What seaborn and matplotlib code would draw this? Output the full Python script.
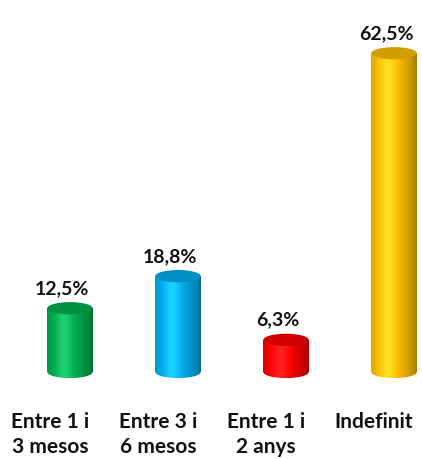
import numpy as np
import matplotlib
matplotlib.use("Agg")
import matplotlib.pyplot as plt
import matplotlib.colors as mcolors
from matplotlib.patches import Ellipse
import seaborn as sns

categories = ["Entre 1 i\n3 mesos", "Entre 3 i\n6 mesos", "Entre 1 i\n2 anys", "Indefinit"]
values = [12.5, 18.8, 6.3, 62.5]
value_labels = ["12,5%", "18,8%", "6,3%", "62,5%"]
colors = ["#00B050", "#00B0F0", "#FF0000", "#FFC000"]

sns.set_style("white")
plt.rcParams["font.family"] = ["Lato", "DejaVu Sans"]

fig = plt.figure(figsize=(4.22, 4.59), dpi=100)
ax = fig.add_axes([0, 0, 1, 1])

bar_w = 0.42
sns.barplot(x=categories, y=values, hue=categories, palette=colors,
            width=bar_w, legend=False, ax=ax, saturation=1)

ax.set_xlim(-0.648, 3.259)
ax.set_ylim(-17.06, 72.94)
ax.axis("off")

eh = 2.4  # ellipse height in data units


def shade(c, n=60):
    base = np.array(mcolors.to_rgb(c))
    t = np.linspace(-1, 1, n)
    # light just left of centre, darker to the edges
    f = 1 - 0.35 * ((t + 0.25) / 1.25) ** 2
    f = np.clip(f, 0.55, 1.0)
    light = np.clip(base * f[:, None] + 0.12 * np.exp(-((t + 0.25) * 3) ** 2)[:, None], 0, 1)
    return light[None, :, :]


for patch, val, lab, col in zip(ax.patches, values, value_labels, colors):
    x0 = patch.get_x()
    w = patch.get_width()
    h = patch.get_height()
    cx = x0 + w / 2
    grad = shade(col)
    patch.set_alpha(0)
    # body
    im = ax.imshow(grad, extent=(x0, x0 + w, -eh / 2, h), aspect="auto",
                   origin="lower", zorder=2, interpolation="bilinear")
    body = plt.Rectangle((x0, 0), w, h, transform=ax.transData)
    im.set_clip_path(body)
    im2 = ax.imshow(grad, extent=(x0, x0 + w, -eh / 2, h), aspect="auto",
                    origin="lower", zorder=2, interpolation="bilinear")
    bottom = Ellipse((cx, 0), w, eh, transform=ax.transData)
    im2.set_clip_path(bottom)
    # top cap
    top_col = np.array(mcolors.to_rgb(col)) * 0.82
    ax.add_patch(Ellipse((cx, h), w, eh, facecolor=top_col, edgecolor="none", zorder=3))
    ax.text(cx - 0.075, h + eh / 2 + 1.0, lab, ha="center", va="bottom",
            fontsize=14, fontweight="bold", color="#111111", zorder=4)

for i, cat in enumerate(categories):
    ax.text(i - 0.185, -7.9, cat, ha="center", va="top", fontsize=15,
            fontweight="bold", color="#111111", linespacing=1.3)

fig.savefig("out.png", dpi=100)
